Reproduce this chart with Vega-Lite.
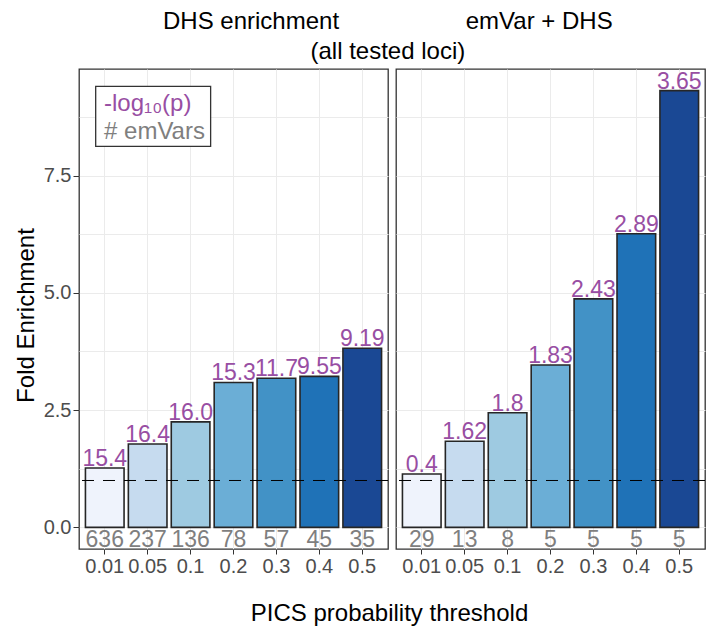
{
  "$schema": "https://vega.github.io/schema/vega-lite/v6.json",
  "padding": {"left": 13, "top": 10, "right": 1, "bottom": 5},
  "background": "white",
  "datasets": {
    "dhs": [
      {"thr": "0.01", "fe": 1.265, "p": "15.4", "n": "636"},
      {"thr": "0.05", "fe": 1.777, "p": "16.4", "n": "237"},
      {"thr": "0.1", "fe": 2.25, "p": "16.0", "n": "136"},
      {"thr": "0.2", "fe": 3.09, "p": "15.3", "n": "78"},
      {"thr": "0.3", "fe": 3.18, "p": "11.7", "n": "57"},
      {"thr": "0.4", "fe": 3.22, "p": "9.55", "n": "45"},
      {"thr": "0.5", "fe": 3.82, "p": "9.19", "n": "35"}
    ],
    "emvar": [
      {"thr": "0.01", "fe": 1.137, "p": "0.4", "n": "29"},
      {"thr": "0.05", "fe": 1.835, "p": "1.62", "n": "13"},
      {"thr": "0.1", "fe": 2.445, "p": "1.8", "n": "8"},
      {"thr": "0.2", "fe": 3.46, "p": "1.83", "n": "5"},
      {"thr": "0.3", "fe": 4.87, "p": "2.43", "n": "5"},
      {"thr": "0.4", "fe": 6.26, "p": "2.89", "n": "5"},
      {"thr": "0.5", "fe": 9.31, "p": "3.65", "n": "5"}
    ],
    "keybox": [{"x1": 0.054, "x2": 0.426, "y1": 9.40, "y2": 8.12}],
    "keytext": [
      {"k": "p", "label": "-log\u2081\u2080(p)", "x": 0.081, "y": 9.03},
      {"k": "n", "label": "# emVars", "x": 0.081, "y": 8.43}
    ]
  },
  "title": {
    "text": "DHS enrichment\u00a0\u00a0\u00a0\u00a0\u00a0\u00a0\u00a0\u00a0\u00a0\u00a0\u00a0\u00a0\u00a0\u00a0\u00a0\u00a0\u00a0\u00a0\u00a0emVar + DHS",
    "subtitle": "(all tested loci)",
    "anchor": "middle",
    "fontSize": 24,
    "fontWeight": "normal",
    "font": "Liberation Sans",
    "color": "black",
    "subtitleFontSize": 24,
    "subtitleFont": "Liberation Sans",
    "subtitleColor": "black",
    "subtitlePadding": 6,
    "offset": 4,
    "dx": 28
  },
  "spacing": 8,
  "bounds": "flush",
  "hconcat": [
    {
      "width": 309,
      "height": 480,
      "layer": [
        {
          "layer": [
            {
              "data": {"name": "dhs"},
              "mark": {"type": "bar", "stroke": "#262626", "strokeWidth": 1.6},
              "encoding": {
                "x": {"field": "thr", "type": "ordinal", "sort": null,
                  "scale": {"paddingInner": 0.1, "paddingOuter": 0.15},
                  "axis": {"title": "PICS probability threshold", "titleX": 310, "titleAlign": "center", "titleAnchor": null, "titlePadding": 25, "labelAngle": 0, "bandPosition": 0.5}},
                "y": {"field": "fe", "type": "quantitative",
                  "scale": {"domain": [-0.46, 9.77], "nice": false, "zero": false},
                  "axis": {"title": "Fold Enrichment", "values": [0, 1.25, 2.5, 3.75, 5, 6.25, 7.5, 8.75],
                    "labelExpr": "datum.value % 2.5 === 0 ? format(datum.value, '.1f') : ''",
                    "tickOpacity": {"condition": {"test": "datum.value % 2.5 !== 0", "value": 0}, "value": 1},
                    "titlePadding": 5, "titleY": 246}},
                "fill": {"field": "thr", "type": "ordinal", "sort": null,
                  "scale": {"range": ["#eff3fc", "#c6dbef", "#9ecae1", "#6baed6", "#4292c6", "#1f72b7", "#1a4894"]},
                  "legend": null}
              }
            },
            {
              "data": {"values": [{}]},
              "mark": {"type": "rule", "strokeDash": [12, 9], "color": "black", "strokeWidth": 1},
              "encoding": {"y": {"datum": 1}}
            },
            {
              "data": {"name": "dhs"},
              "mark": {"type": "text", "baseline": "alphabetic", "dy": -2, "fontSize": 23, "color": "#984ea3"},
              "encoding": {
                "x": {"field": "thr", "type": "ordinal", "sort": null},
                "y": {"field": "fe", "type": "quantitative"},
                "text": {"field": "p"}
              }
            },
            {
              "data": {"name": "dhs"},
              "mark": {"type": "text", "baseline": "alphabetic", "fontSize": 23, "color": "#7f7f7f"},
              "encoding": {
                "x": {"field": "thr", "type": "ordinal", "sort": null},
                "y": {"datum": -0.41},
                "text": {"field": "n"}
              }
            }
          ]
        },
        {
          "layer": [
            {
              "data": {"name": "keybox"},
              "mark": {"type": "rect", "fill": "white", "stroke": "#333333", "strokeWidth": 1.3},
              "encoding": {
                "x": {"field": "x1", "type": "quantitative", "scale": {"domain": [0, 1], "nice": false, "zero": false}, "axis": null},
                "x2": {"field": "x2"},
                "y": {"field": "y1", "type": "quantitative"},
                "y2": {"field": "y2"}
              }
            },
            {
              "data": {"name": "keytext"},
              "mark": {"type": "text", "align": "left", "baseline": "middle", "fontSize": 24},
              "encoding": {
                "x": {"field": "x", "type": "quantitative"},
                "y": {"field": "y", "type": "quantitative"},
                "text": {"field": "label"},
                "color": {"condition": {"test": "datum.k === 'p'", "value": "#984ea3"}, "value": "#7f7f7f"}
              }
            }
          ]
        }
      ],
      "resolve": {"scale": {"x": "independent"}, "axis": {"x": "independent"}}
    },
    {
      "width": 309,
      "height": 480,
      "layer": [
        {
          "data": {"name": "emvar"},
          "mark": {"type": "bar", "stroke": "#262626", "strokeWidth": 1.6},
          "encoding": {
            "x": {"field": "thr", "type": "ordinal", "sort": null,
              "scale": {"paddingInner": 0.1, "paddingOuter": 0.15},
              "axis": {"title": null, "labelAngle": 0, "bandPosition": 0.5}},
            "y": {"field": "fe", "type": "quantitative",
              "scale": {"domain": [-0.46, 9.77], "nice": false, "zero": false},
              "axis": {"title": null, "values": [0, 1.25, 2.5, 3.75, 5, 6.25, 7.5, 8.75], "labels": false, "ticks": false}},
            "fill": {"field": "thr", "type": "ordinal", "sort": null,
              "scale": {"range": ["#eff3fc", "#c6dbef", "#9ecae1", "#6baed6", "#4292c6", "#1f72b7", "#1a4894"]},
              "legend": null}
          }
        },
        {
          "data": {"values": [{}]},
          "mark": {"type": "rule", "strokeDash": [12, 9], "color": "black", "strokeWidth": 1},
          "encoding": {"y": {"datum": 1}}
        },
        {
          "data": {"name": "emvar"},
          "mark": {"type": "text", "baseline": "alphabetic", "dy": -2, "fontSize": 23, "color": "#984ea3"},
          "encoding": {
            "x": {"field": "thr", "type": "ordinal", "sort": null},
            "y": {"field": "fe", "type": "quantitative"},
            "text": {"field": "p"}
          }
        },
        {
          "data": {"name": "emvar"},
          "mark": {"type": "text", "baseline": "alphabetic", "fontSize": 23, "color": "#7f7f7f"},
          "encoding": {
            "x": {"field": "thr", "type": "ordinal", "sort": null},
            "y": {"datum": -0.41},
            "text": {"field": "n"}
          }
        }
      ]
    }
  ],
  "config": {
    "font": "Liberation Sans",
    "view": {"stroke": "#333333", "strokeWidth": 1.3},
    "text": {"font": "Liberation Sans"},
    "axis": {
      "domain": false,
      "grid": true,
      "gridColor": "#ebebeb",
      "gridWidth": 1,
      "tickColor": "#333333",
      "tickSize": 5,
      "labelFont": "Liberation Sans",
      "labelFontSize": 20,
      "labelColor": "#4d4d4d",
      "labelPadding": 2,
      "titleFont": "Liberation Sans",
      "titleFontSize": 24,
      "titleFontWeight": "normal",
      "titleColor": "black"
    },
    "axisY": {"tickSize": 6}
  }
}
